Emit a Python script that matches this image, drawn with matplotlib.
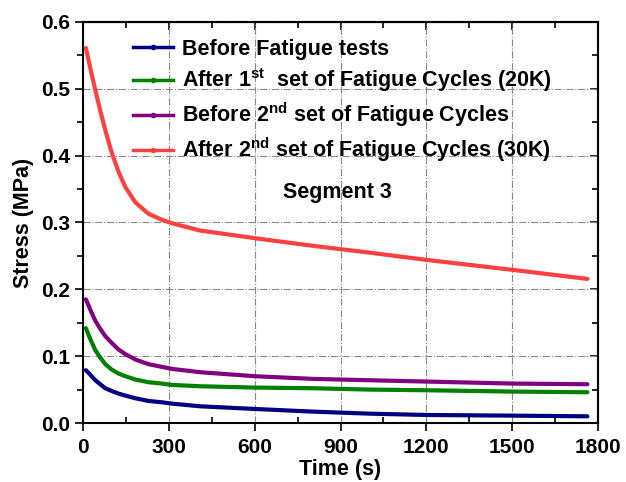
import numpy as np
import matplotlib.pyplot as plt
from matplotlib.lines import Line2D
from matplotlib.ticker import MultipleLocator

plt.rcParams['font.family'] = 'Liberation Sans'
plt.rcParams['font.weight'] = 'bold'
plt.rcParams['mathtext.fontset'] = 'custom'
plt.rcParams['mathtext.rm'] = 'Liberation Sans:bold'
plt.rcParams['mathtext.bf'] = 'Liberation Sans:bold'

# Stress relaxation readings, time in seconds
t = [10, 26, 43, 60, 78, 100, 124, 148, 183, 229, 276, 310, 409, 601, 805,
     1000, 1201, 1504, 1763]
before_fatigue = [0.079, 0.072, 0.064, 0.058, 0.052, 0.048, 0.044, 0.041, 0.037,
                  0.033, 0.031, 0.029, 0.025, 0.021, 0.017, 0.014, 0.012, 0.011,
                  0.010]
after_first = [0.142, 0.125, 0.109, 0.098, 0.088, 0.080, 0.074, 0.070, 0.065,
               0.061, 0.059, 0.057, 0.055, 0.053, 0.052, 0.050, 0.049, 0.047,
               0.046]
before_second = [0.185, 0.169, 0.153, 0.141, 0.130, 0.120, 0.110, 0.103, 0.095,
                 0.088, 0.084, 0.081, 0.076, 0.070, 0.066, 0.064, 0.062, 0.059,
                 0.058]
after_second = [0.561, 0.530, 0.498, 0.468, 0.438, 0.405, 0.376, 0.353, 0.330,
                0.313, 0.304, 0.299, 0.288, 0.2765, 0.265, 0.255, 0.244, 0.229,
                0.2156]

series = [
    (before_fatigue, '#000080', 'Before Fatigue tests'),
    (after_first, '#008000', r'After 1$^{\mathbf{st}}$  set of Fatigue Cycles (20K)'),
    (before_second, '#800080', r'Before 2$^{\mathbf{nd}}$ set of Fatigue Cycles'),
    (after_second, '#FF4040', r'After 2$^{\mathbf{nd}}$ set of Fatigue Cycles (30K)'),
]

fig = plt.figure(figsize=(6.26, 4.82), dpi=100)
ax = fig.add_axes([0.1326, 0.1224, 0.8227, 0.832])

handles = []
for y, c, lab in series:
    ax.plot(t, y, color=c, lw=3, solid_joinstyle='round', solid_capstyle='round')
    handles.append(Line2D([], [], color=c, lw=2.5, marker='o', markersize=3,
                          label=lab))

ax.set_xlim(0, 1800)
ax.set_ylim(0, 0.6)
ax.xaxis.set_major_locator(MultipleLocator(300))
ax.xaxis.set_minor_locator(MultipleLocator(150))
ax.yaxis.set_major_locator(MultipleLocator(0.1))
ax.yaxis.set_minor_locator(MultipleLocator(0.05))
ax.yaxis.set_major_formatter(plt.FuncFormatter(lambda v, p: f'{v:.1f}'))

ax.grid(True, which='major', color='#888888', ls='-.', lw=0.8)
ax.tick_params(axis='both', which='major', labelsize=15, length=6, width=1.2,
               direction='out')
ax.tick_params(axis='x', which='major', pad=5)
ax.tick_params(axis='y', which='major', pad=3)
ax.tick_params(axis='y', which='minor', length=4, width=1.2, direction='out')
ax.tick_params(axis='x', which='minor', length=4, width=1.2, direction='in')

# inward ticks on the top and right frame
top = ax.secondary_xaxis('top')
top.xaxis.set_major_locator(MultipleLocator(300))
top.xaxis.set_minor_locator(MultipleLocator(150))
top.tick_params(which='major', direction='in', length=6, width=1.2, labeltop=False)
top.tick_params(which='minor', direction='in', length=4, width=1.2)
right = ax.secondary_yaxis('right')
right.yaxis.set_major_locator(MultipleLocator(0.1))
right.yaxis.set_minor_locator(MultipleLocator(0.05))
right.tick_params(which='major', direction='in', length=6, width=1.2, labelright=False)
right.tick_params(which='minor', direction='in', length=4, width=1.2)
for a in (ax, top, right):
    for s in a.spines.values():
        s.set_linewidth(1.5)

ax.set_xlabel('Time (s)', fontsize=15.5, fontweight='bold', labelpad=1)
ax.set_ylabel('Stress (MPa)', fontsize=15.5, fontweight='bold', labelpad=5)

ax.legend(handles=handles, loc='upper left', bbox_to_anchor=(0.097, 0.958),
          frameon=False, fontsize=15.5, handlelength=1.85, handletextpad=0.42,
          labelspacing=0.3, borderpad=0, borderaxespad=0, numpoints=1)
ax.text(0.493, 0.576, 'Segment 3', transform=ax.transAxes, ha='center',
        va='center', fontsize=15.5, fontweight='bold')

fig.savefig('out.png', dpi=100)
